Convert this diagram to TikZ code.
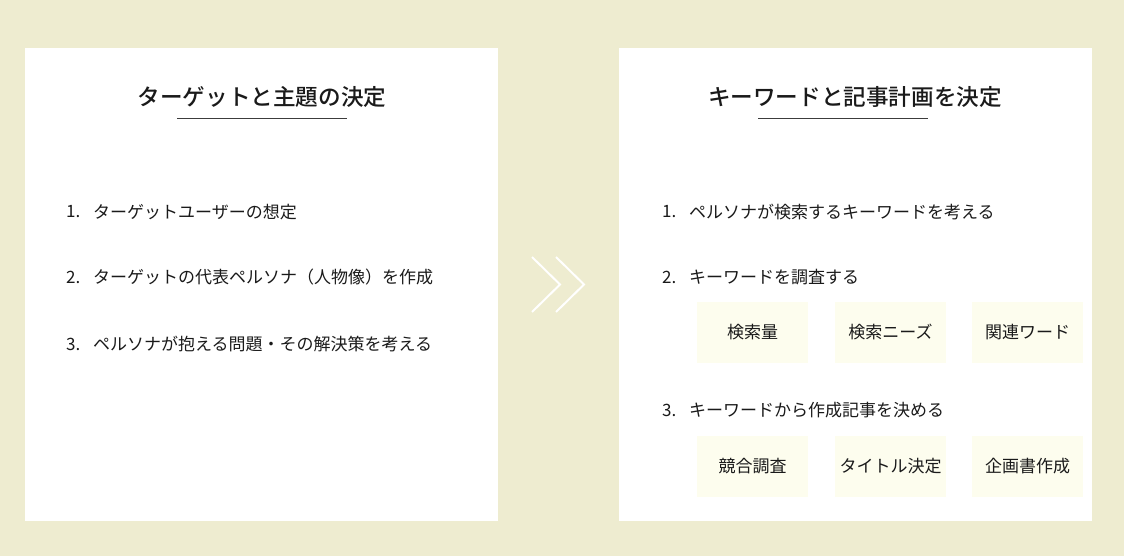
\documentclass[tikz,border=0pt]{standalone}
\usepackage{fontspec}
\setmainfont{Noto Sans CJK JP}
\newfontfamily\jpm{Noto Sans CJK JP Medium}
\definecolor{bgc}{HTML}{EEECD0}
\definecolor{boxc}{HTML}{FDFDEE}
\definecolor{txt}{HTML}{1A1A1A}
\begin{document}
\begin{tikzpicture}[x=1pt,y=-1pt,
  panel/.style={fill=white,draw=none},
  ttl/.style={font=\jpm\fontsize{22.6}{26}\selectfont,text=txt,inner sep=0},
  item/.style={font=\fontsize{17}{20}\selectfont,text=txt,anchor=west,inner sep=0},
  num/.style={font=\fontsize{17}{20}\selectfont,text=txt,anchor=west,inner sep=0},
  tag/.style={fill=boxc,minimum width=111pt,minimum height=61pt,inner sep=0,font=\fontsize{17}{20}\selectfont,text=txt},
  uline/.style={draw=txt!85,line width=1pt},
  chev/.style={draw=white,line width=2pt}]
\fill[bgc] (0,0) rectangle (1124,556);
\useasboundingbox (0,0) rectangle (1124,556);
\node[panel,minimum width=473pt,minimum height=473pt,inner sep=0,anchor=north west] (L) at (25,48) {};
\node[panel,minimum width=473pt,minimum height=473pt,inner sep=0,anchor=north west] (R) at (619,48) {};
% titles
\node[ttl] (lt) at (262,97) {ターゲットと主題の決定};
\coordinate (lu1) at (177,119); \coordinate (lu2) at (347,119);
\draw[uline] (lu1) -- (lu2);
\node[ttl] (rt) at (855,97) {キーワードと記事計画を決定};
\coordinate (ru1) at (758,119); \coordinate (ru2) at (928,119);
\draw[uline] (ru1) -- (ru2);
% left list
\node[num] (ln1) at (66,212) {1.};
\node[item] (li1) at (93,212) {ターゲットユーザーの想定};
\node[num] (ln2) at (66,277) {2.};
\node[item] (li2) at (93,277) {ターゲットの代表ペルソナ（人物像）を作成};
\node[num] (ln3) at (66,344) {3.};
\node[item] (li3) at (93,344) {ペルソナが抱える問題・その解決策を考える};
% right list
\node[num] (rn1) at (662,212) {1.};
\node[item] (ri1) at (689,212) {ペルソナが検索するキーワードを考える};
\node[num] (rn2) at (662,277) {2.};
\node[item] (ri2) at (689,277) {キーワードを調査する};
\node[num] (rn3) at (662,410) {3.};
\node[item] (ri3) at (689,410) {キーワードから作成記事を決める};
% tags
\node[tag] (a1) at (752.5,332.5) {検索量};
\node[tag] (a2) at (890.5,332.5) {検索ニーズ};
\node[tag] (a3) at (1027.5,332.5) {関連ワード};
\node[tag] (b1) at (752.5,466) {競合調査};
\node[tag] (b2) at (890.5,466) {タイトル決定};
\node[tag] (b3) at (1027.5,466) {企画書作成};
% chevrons
\draw[chev] (532,257) -- (560,284.5) -- (532,312);
\draw[chev] (556,257) -- (584,284.5) -- (556,312);
\end{tikzpicture}
\end{document}
